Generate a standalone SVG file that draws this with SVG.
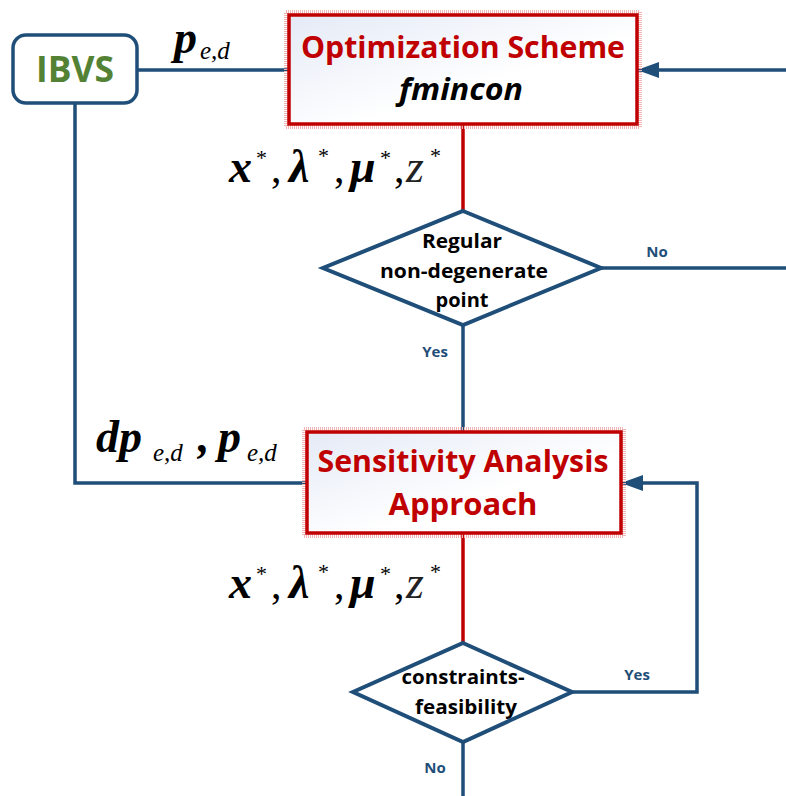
<svg xmlns="http://www.w3.org/2000/svg" width="786" height="796" viewBox="0 0 786 796">
<defs>
<linearGradient id="boxfill" x1="0" y1="0" x2="1" y2="1">
<stop offset="0" stop-color="#e4eaf6"/>
<stop offset="0.6" stop-color="#ffffff"/>
</linearGradient>
<marker id="arrow" markerUnits="userSpaceOnUse" markerWidth="24" markerHeight="18" refX="22" refY="8" orient="auto">
<path d="M0,0 L22,8 L0,16 Z" fill="#1F4E79"/>
</marker>
<style>
.blue{stroke:#1F4E79;stroke-width:3.5;fill:none}
.red{stroke:#C00000;stroke-width:3.5;fill:none}
.halo{fill:none;stroke:#f2b3b3;stroke-width:4;stroke-dasharray:1 1}
.box{fill:url(#boxfill);stroke:#C00000;stroke-width:3.5}
.dia{fill:#ffffff;stroke:#1F4E79;stroke-width:4}
.title{font-family:"Open Sans","Liberation Sans",sans-serif;font-weight:bold;fill:#C00000;font-size:30px;text-anchor:middle}
.dtext{font-family:"Open Sans","Liberation Sans",sans-serif;font-weight:bold;fill:#000000;font-size:19px;text-anchor:middle}
.yn{font-family:"Open Sans","Liberation Sans",sans-serif;font-weight:bold;fill:#1F4E79;font-size:15px;text-anchor:middle}
.m{font-family:"Liberation Serif","Times New Roman",serif;font-style:italic;font-weight:bold;fill:#000;font-size:46px}
.mz{font-family:"Liberation Serif","Times New Roman",serif;font-style:italic;fill:#222;font-size:46px}
.st{font-family:"Liberation Serif","Times New Roman",serif;fill:#000;font-size:22px}
.cm{font-family:"Liberation Serif","Times New Roman",serif;fill:#000;font-size:42px}
.sub{font-family:"Liberation Serif","Times New Roman",serif;font-style:italic;fill:#000;font-size:25px}
</style>
</defs>
<rect width="786" height="796" fill="#ffffff"/>

<g id="connectors">
<path class="blue" d="M137,70 L289,70"/>
<path class="blue" d="M786,70 L637,70" marker-end="url(#arrow)"/>
<path class="red" d="M463,124 L463,211"/>
<path class="blue" d="M601,268 L786,268"/>
<path class="blue" d="M463,325 L463,432"/>
<path class="blue" d="M75,103 L75,483 L307,483"/>
<path class="red" d="M463,533 L463,643"/>
<path class="blue" d="M572,692 L697,692 L697,483 L621,483" marker-end="url(#arrow)"/>
<path class="blue" d="M463,742 L463,796"/>
<text class="yn" x="657" y="257">No</text>
<text class="yn" x="435" y="357">Yes</text>
<text class="yn" x="637" y="680">Yes</text>
<text class="yn" x="435" y="773">No</text>
</g>

<g id="label-ped">
<text class="m" x="174" y="53" font-size="42">p</text>
<text class="sub" x="200" y="59">e,d</text>
</g>

<g id="label-sol1">
<text class="m" x="229" y="182">x</text>
<text class="st" x="256" y="165">*</text>
<text class="cm" x="271" y="182">,</text>
<text class="m" x="289" y="182">λ</text>
<text class="st" x="318" y="163">*</text>
<text class="cm" x="334" y="182">,</text>
<text class="m" x="350" y="182">μ</text>
<text class="st" x="380" y="165">*</text>
<text class="cm" x="394" y="182">,</text>
<text class="mz" x="406" y="182">z</text>
<text class="st" x="430" y="163">*</text>
</g>

<g id="label-dp">
<text class="m" x="96" y="452" font-size="48">dp</text>
<text class="sub" x="153" y="461">e,d</text>
<text class="m" x="198" y="452">,</text>
<text class="m" x="218" y="452">p</text>
<text class="sub" x="247" y="461">e,d</text>
</g>

<g id="label-sol2">
<text class="m" x="229" y="598">x</text>
<text class="st" x="256" y="581">*</text>
<text class="cm" x="271" y="598">,</text>
<text class="m" x="289" y="598">λ</text>
<text class="st" x="318" y="579">*</text>
<text class="cm" x="334" y="598">,</text>
<text class="m" x="350" y="598">μ</text>
<text class="st" x="380" y="581">*</text>
<text class="cm" x="394" y="598">,</text>
<text class="mz" x="406" y="598">z</text>
<text class="st" x="430" y="579">*</text>
</g>

<g id="ibvs">
<rect x="13" y="35" width="124" height="68" rx="13" ry="13" fill="#ffffff" stroke="#1F4E79" stroke-width="3.5"/>
<text x="75" y="82" font-family="'Open Sans','Liberation Sans',sans-serif" font-weight="bold" font-size="36" fill="#548235" text-anchor="middle" textLength="78" lengthAdjust="spacingAndGlyphs">IBVS</text>
</g>

<g id="optimization">
<rect class="halo" x="286" y="12" width="354" height="115"/>
<rect class="box" x="289" y="15" width="348" height="109"/>
<text class="title" x="463" y="58" textLength="324" lengthAdjust="spacingAndGlyphs">Optimization Scheme</text>
<text x="461" y="100" font-family="'Open Sans','Liberation Sans',sans-serif" font-weight="bold" font-style="italic" font-size="30" fill="#000" text-anchor="middle" textLength="124" lengthAdjust="spacingAndGlyphs">fmincon</text>
</g>

<g id="regular">
<polygon class="dia" points="463,211 601,268 463,325 323,268"/>
<text class="dtext" x="462" y="248" textLength="80" lengthAdjust="spacingAndGlyphs">Regular</text>
<text class="dtext" x="464" y="278" textLength="168" lengthAdjust="spacingAndGlyphs">non-degenerate</text>
<text class="dtext" x="462" y="307" textLength="53" lengthAdjust="spacingAndGlyphs">point</text>
</g>

<g id="sensitivity">
<rect class="halo" x="304" y="429" width="320" height="107"/>
<rect class="box" x="307" y="432" width="314" height="101"/>
<text class="title" x="463" y="472" textLength="291" lengthAdjust="spacingAndGlyphs">Sensitivity Analysis</text>
<text class="title" x="463" y="515" textLength="149" lengthAdjust="spacingAndGlyphs">Approach</text>
</g>

<g id="feasibility">
<polygon class="dia" points="463,643 572,692 463,742 353,692"/>
<text class="dtext" x="463" y="684" textLength="123" lengthAdjust="spacingAndGlyphs">constraints-</text>
<text class="dtext" x="466" y="714" textLength="102" lengthAdjust="spacingAndGlyphs">feasibility</text>
</g>
</svg>
